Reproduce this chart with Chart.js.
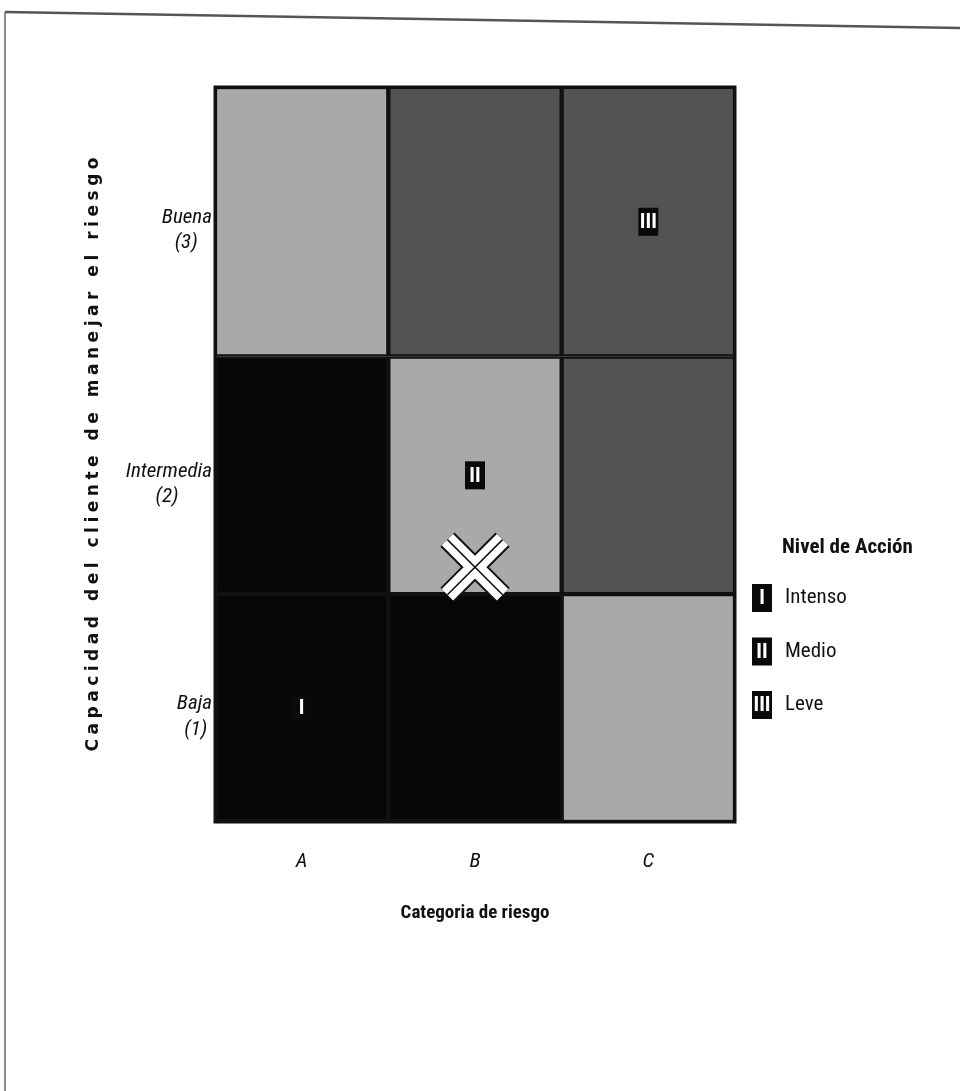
<!DOCTYPE html>
<html>
<head>
<meta charset="utf-8">
<script src="https://cdn.jsdelivr.net/npm/chart.js@4.4.1/dist/chart.umd.min.js"></script>
<style>
  html, body { margin: 0; padding: 0; background: #ffffff; }
  canvas { display: block; }
</style>
</head>
<body>
<canvas id="c" width="960" height="1091"></canvas>
<script>
// ---------------- data ----------------
const categories = ['A', 'B', 'C'];
const rowNames = ['Baja', 'Intermedia', 'Buena'];
const rowScores = ['(1)', '(2)', '(3)'];
const rowBounds = [0, 0.93, 1.90, 3.0];
const levelBaja = [1, 1, 2];
const levelIntermedia = [1, 2, 3];
const levelBuena = [2, 3, 3];
const levelNumerals = ['I', 'II', 'III'];
const levelNames = ['Intenso', 'Medio', 'Leve'];
const legendTitle = 'Nivel de Acción';
const cellTags = [['A', 'Baja', 'I'], ['B', 'Intermedia', 'II'], ['C', 'Buena', 'III']];
const markerPoint = [{ x: 'B', y: 1.04 }];
const xTitle = 'Categoria de riesgo';
const yTitle = 'Capacidad del cliente de manejar el riesgo';

// ---------------- styles ----------------
const NARROW = "'Roboto Condensed', 'Liberation Sans', sans-serif";
const WIDE = "'DejaVu Sans', 'Liberation Sans', sans-serif";
const levelColors = { 1: '#070707', 2: '#a9a9a9', 3: '#535353' };
const rowLevels = [levelBaja, levelIntermedia, levelBuena];

// center lines of a multi-line label by padding shorter lines with trailing spaces (labels are right aligned)
const measureCtx = document.createElement('canvas').getContext('2d');
function centeredLines(lines, font) {
  measureCtx.font = font;
  const sp = measureCtx.measureText(' ').width;
  const ws = lines.map(l => measureCtx.measureText(l).width);
  const mx = Math.max(...ws);
  return lines.map((l, i) => l + ' '.repeat(Math.max(0, Math.round((mx - ws[i]) / 2 / sp))));
}

const barSets = rowNames.map((name, i) => ({
  type: 'bar',
  label: name,
  data: categories.map(() => [rowBounds[i], rowBounds[i + 1]]),
  backgroundColor: rowLevels[i].map(l => levelColors[l]),
  borderColor: '#111111',
  borderWidth: 2.5,
  borderSkipped: false,
  barPercentage: 1,
  categoryPercentage: 1,
  order: 10
}));

const markerSets = [
  { w: 20, c: '#111111', o: 3 },
  { w: 16, c: '#ffffff', o: 2 },
  { w: 1.5, c: '#111111', o: 1 }
].map(s => ({
  type: 'line',
  label: 'marker',
  data: markerPoint,
  showLine: false,
  pointStyle: 'crossRot',
  pointRadius: 39,
  pointHoverRadius: 39,
  pointBorderWidth: s.w,
  pointHoverBorderWidth: s.w,
  pointBorderColor: s.c,
  pointBackgroundColor: s.c,
  order: s.o
}));

const framePlugin = {
  id: 'frame',
  beforeDraw(chart) {
    const ctx = chart.ctx;
    ctx.save();
    ctx.strokeStyle = '#555555';
    ctx.lineWidth = 2.5;
    ctx.beginPath();
    ctx.moveTo(5, 12);
    ctx.lineTo(960, 28);
    ctx.stroke();
    ctx.lineWidth = 1.5;
    ctx.strokeStyle = '#666666';
    ctx.beginPath();
    ctx.moveTo(5, 12);
    ctx.lineTo(5, 1091);
    ctx.stroke();
    ctx.restore();
  }
};

const overlayPlugin = {
  id: 'overlay',
  afterDatasetsDraw(chart) {
    const ctx = chart.ctx;
    const a = chart.chartArea;
    ctx.save();
    // cell tags
    cellTags.forEach(([cat, row, txt]) => {
      const di = rowNames.indexOf(row);
      const ci = categories.indexOf(cat);
      const el = chart.getDatasetMeta(di).data[ci];
      const cx = el.x, cy = (el.y + el.base) / 2;
      ctx.fillStyle = '#0a0a0a';
      ctx.fillRect(cx - 10, cy - 14, 20, 28);
      ctx.fillStyle = '#ffffff';
      ctx.font = 'bold 21px ' + NARROW;
      ctx.textAlign = 'center';
      ctx.textBaseline = 'middle';
      ctx.fillText(txt, cx, cy + 1);
    });
    // outer frame of plot
    ctx.strokeStyle = '#111111';
    ctx.lineWidth = 3;
    ctx.strokeRect(a.left, a.top, a.right - a.left, a.bottom - a.top);
    ctx.restore();
  },
  afterDraw(chart) {
    const ctx = chart.ctx;
    const a = chart.chartArea;
    ctx.save();
    // y axis title, letter spaced
    ctx.translate(94, (a.top + a.bottom) / 2);
    ctx.rotate(-Math.PI / 2);
    ctx.font = 'bold 17px ' + WIDE;
    ctx.fillStyle = '#111111';
    ctx.textBaseline = 'middle';
    ctx.textAlign = 'left';
    const chars = [...yTitle];
    const ws = chars.map(ch => ctx.measureText(ch).width);
    const total = ws.reduce((s, v) => s + v, 0);
    const target = 594;
    const gap = (target - total) / (chars.length - 1);
    let x = -target / 2;
    chars.forEach((ch, i) => { ctx.fillText(ch, x, 0); x += ws[i] + gap; });
    ctx.restore();

    // legend
    ctx.save();
    const bx = a.right + 17;
    ctx.fillStyle = '#111111';
    ctx.textAlign = 'left';
    ctx.textBaseline = 'middle';
    ctx.font = 'bold 21px ' + NARROW;
    ctx.fillText(legendTitle, a.right + 47, 548);
    levelNames.forEach((name, i) => {
      const y = 598 + i * 53.5;
      ctx.fillStyle = '#0a0a0a';
      ctx.fillRect(bx, y - 14, 20, 28);
      ctx.fillStyle = '#ffffff';
      ctx.font = 'bold 21px ' + NARROW;
      ctx.textAlign = 'center';
      ctx.fillText(levelNumerals[i], bx + 10, y + 1);
      ctx.fillStyle = '#111111';
      ctx.font = '21px ' + NARROW;
      ctx.textAlign = 'left';
      ctx.fillText(name, bx + 33, y);
    });
    ctx.restore();
  }
};

const tickFont = { family: NARROW, size: 21, style: 'italic' };

new Chart(document.getElementById('c'), {
  data: { labels: categories, datasets: [...barSets, ...markerSets] },
  options: {
    responsive: false,
    animation: false,
    devicePixelRatio: 1,
    layout: { padding: { top: 87, right: 225, bottom: 0, left: 15 } },
    plugins: { legend: { display: false }, tooltip: { enabled: false } },
    scales: {
      x: {
        type: 'category',
        stacked: true,
        grid: { display: false, drawTicks: false },
        border: { display: false },
        ticks: { font: tickFont, color: '#111111', padding: 27 },
        title: {
          display: true,
          text: xTitle,
          font: { family: NARROW, size: 19, weight: 'bold' },
          color: '#111111',
          padding: { top: 4, bottom: 166 }
        },
        afterFit(scale) { scale.height = 269; }
      },
      y: {
        type: 'linear',
        min: rowBounds[0],
        max: rowBounds[rowBounds.length - 1],
        stacked: false,
        grid: { display: false, drawTicks: false },
        border: { display: false },
        afterBuildTicks(scale) {
          scale.ticks = rowNames.map((_, i) => ({ value: (rowBounds[i] + rowBounds[i + 1]) / 2 - 0.035 }));
        },
        ticks: {
          autoSkip: false,
          font: tickFont,
          color: '#111111',
          padding: 3,
          crossAlign: 'near',
          callback(value, index) {
            return centeredLines([rowNames[index], rowScores[index]], 'italic 21px ' + NARROW);
          }
        },
        afterFit(scale) { scale.width = 200; }
      }
    }
  },
  plugins: [framePlugin, overlayPlugin]
});
</script>
</body>
</html>
